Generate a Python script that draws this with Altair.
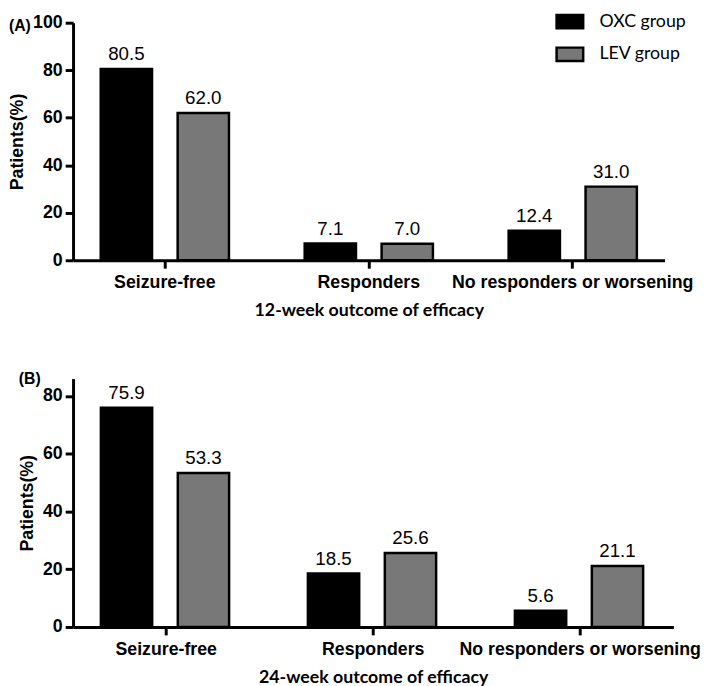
import altair as alt
import pandas as pd

categories = ["Seizure-free", "Responders", "No responders or worsening"]
groups = ["OXC group", "LEV group"]
oxc_12 = [80.5, 7.1, 12.4]
lev_12 = [62.0, 7.0, 31.0]
oxc_24 = [75.9, 18.5, 5.6]
lev_24 = [53.3, 25.6, 21.1]
y_ticks_a = [0, 20, 40, 60, 80, 100]
y_ticks_b = [0, 20, 40, 60, 80]
colors = ["#000000", "#787878"]


def frame(oxc, lev):
    rows = []
    for c, o, l in zip(categories, oxc, lev):
        rows.append({"outcome": c, "group": groups[0], "pct": o})
        rows.append({"outcome": c, "group": groups[1], "pct": l})
    return pd.DataFrame(rows)


def panel(df, label, label_off, xtitle, ydomain, yticks, width, height, legend):
    x = alt.X(
        "outcome:N", sort=categories, title=xtitle,
        scale=alt.Scale(paddingInner=0.2, paddingOuter=0.05),
        axis=alt.Axis(
            labelAngle=0, labelFont="Liberation Sans", labelFontSize=18,
            labelFontWeight="bold", labelColor="black", labelPadding=6,
            labelLimit=400, labelOverlap=False,
            titleFont="Lato", titleFontSize=18, titleFontWeight="bold",
            titleColor="black", titlePadding=10,
            domainColor="black", domainWidth=3, tickColor="black",
            tickWidth=3, tickSize=8,
        ),
    )
    xo = alt.XOffset("group:N", sort=groups,
                     scale=alt.Scale(paddingInner=0.333, paddingOuter=0.227))
    y = alt.Y(
        "pct:Q", title="Patients(%)",
        scale=alt.Scale(domain=ydomain, nice=False, zero=True),
        axis=alt.Axis(
            values=yticks, grid=False, labelFont="Liberation Sans",
            labelFontSize=18, labelFontWeight="bold", labelColor="black",
            labelPadding=3, titleFont="Liberation Sans", titleFontSize=18,
            titleFontWeight="bold", titleColor="black", titlePadding=6,
            domainColor="black", domainWidth=3, tickColor="black",
            tickWidth=3, tickSize=8,
        ),
    )
    color = alt.Color("group:N", sort=groups, title=None,
                      scale=alt.Scale(domain=groups, range=colors),
                      legend=legend)
    bars = alt.Chart(df).mark_bar(stroke="black", strokeWidth=2.5).encode(
        x=x, xOffset=xo, y=y, color=color)
    text = alt.Chart(df).mark_text(
        font="Liberation Sans", fontSize=19, baseline="alphabetic", dy=-9,
        color="black").encode(
        x=x, xOffset=xo, y=y, text=alt.Text("pct:Q", format=".1f"))
    return alt.layer(bars, text).properties(
        width=width, height=height,
        title=alt.TitleParams(label, anchor="start", frame="bounds",
                              font="Liberation Sans", fontSize=16,
                              fontWeight="bold", color="black",
                              offset=label_off),
    )


legend_a = alt.Legend(
    orient="none", legendX=495, legendY=-10, padding=0,
    symbolType="M-2,-1H2V1H-2Z", symbolSize=182,
    symbolStrokeColor="black", symbolStrokeWidth=2.5,
    labelFont="Lato", labelFontSize=18, labelColor="black",
    labelOffset=21, rowPadding=9,
)

panel_a = panel(frame(oxc_12, lev_12), "(A)", -21,
                "12-week outcome of efficacy", [0, 100], y_ticks_a,
                600, 241, legend_a)
panel_b = panel(frame(oxc_24, lev_24), "(B)", -8,
                "24-week outcome of efficacy", [0, 86], y_ticks_b,
                609, 252, None)

chart = alt.concat(panel_a, panel_b, columns=1, spacing=52, align="none").resolve_scale(
    color="independent").properties(padding=0).configure_view(stroke=None)

chart.save("out.html", embed_options={"renderer": "svg", "actions": False})
